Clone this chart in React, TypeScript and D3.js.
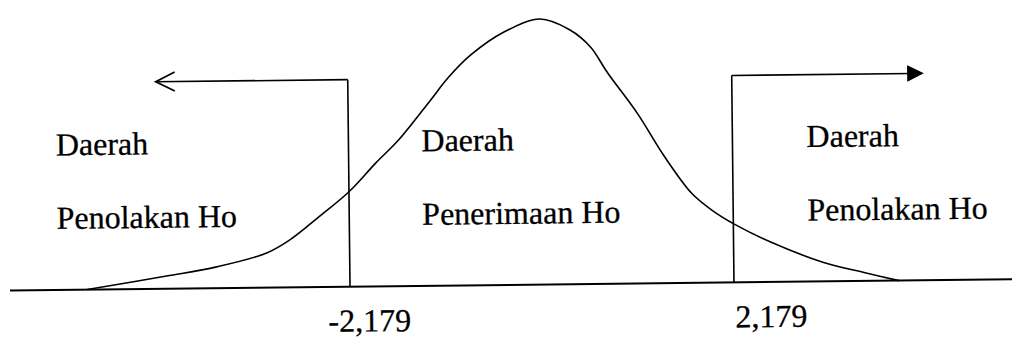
import * as d3 from 'd3'

// t-distribution sketch (hand drawn in the original, slightly skewed)
const curveT = [-5.16, -4.26, -3.69, -3.12, -2.86, -2.52, -2.179, -1.87, -1.61, -1.24, -1.04, -0.78, -0.4, 0.01, 0.35, 0.58, 0.77, 1.1, 1.41, 1.71, 1.94, 2.2, 2.62, 3.19, 3.68, 4.05]
const curveDensity = [0, 0.019, 0.032, 0.052, 0.071, 0.106, 0.143, 0.186, 0.22, 0.28, 0.313, 0.347, 0.381, 0.4, 0.383, 0.357, 0.318, 0.257, 0.19, 0.135, 0.109, 0.087, 0.059, 0.029, 0.012, 0]

const criticalValues = [-2.179, 2.179]
const criticalLabels = ['-2,179', '2,179']

const regionTitles = ['Daerah', 'Daerah', 'Daerah']
const regionNames = ['Penolakan Ho', 'Penerimaan Ho', 'Penolakan Ho']
const regionAnchors = [-5.5, -1.35, 3.02]

const W = 1012
const H = 339
const BASE = 285
const FONT = '"Liberation Serif", "Times New Roman", serif'

export default function App() {
  const x = d3.scaleLinear().domain([-2.179, 2.179]).range([350, 734])
  const y = d3.scaleLinear().domain([0, 0.4]).range([BASE, 19.5])

  const pts: [number, number][] = curveT.map((t, i) => [t, curveDensity[i]])
  const line = d3
    .line<[number, number]>()
    .x((d) => x(d[0]))
    .y((d) => y(d[1]))
    .curve(d3.curveCatmullRom.alpha(0.5))

  const armTop = 78
  const leftX = x(criticalValues[0])
  const rightX = x(criticalValues[1])
  const leftTip = 158
  const rightTip = 925

  return (
    <svg width={W} height={H} style={{ position: 'absolute', left: 0, top: 0, background: '#fff' }}>
      <g transform={`rotate(-0.63, 500, ${BASE})`} stroke="#000" fill="none">
        <line x1={10} x2={1040} y1={BASE} y2={BASE} strokeWidth={2} />
        <path d={line(pts) || ''} strokeWidth={1.6} />

        {/* left rejection boundary, open arrow head */}
        <line x1={leftX} x2={leftX} y1={armTop} y2={BASE} strokeWidth={1.6} />
        <line x1={leftX} x2={leftTip} y1={armTop} y2={armTop} strokeWidth={1.6} />
        <path d={`M${leftTip + 19},${armTop - 9.5} L${leftTip},${armTop} L${leftTip + 19},${armTop + 9.5}`} strokeWidth={1.8} />

        {/* right rejection boundary, filled arrow head */}
        <line x1={rightX} x2={rightX} y1={armTop} y2={BASE} strokeWidth={1.6} />
        <line x1={rightX} x2={rightTip - 10} y1={armTop} y2={armTop} strokeWidth={1.6} />
        <path d={`M${rightTip - 15},${armTop - 7.5} L${rightTip},${armTop} L${rightTip - 15},${armTop + 7.5} Z`} fill="#000" strokeWidth={1} />

        <g stroke="#000" strokeWidth={0.3} fill="#000" fontFamily={FONT}>
          {regionAnchors.map((a, i) => (
            <g key={i}>
              <text x={x(a)} y={150.5} fontSize={32}>{regionTitles[i]}</text>
              <text x={x(a)} y={224} fontSize={32}>{regionNames[i]}</text>
            </g>
          ))}
          {criticalValues.map((v, i) => (
            <text key={v} x={x(v) + (v < 0 ? -22 : 1)} y={330} fontSize={32}>{criticalLabels[i]}</text>
          ))}
        </g>
      </g>
    </svg>
  )
}
